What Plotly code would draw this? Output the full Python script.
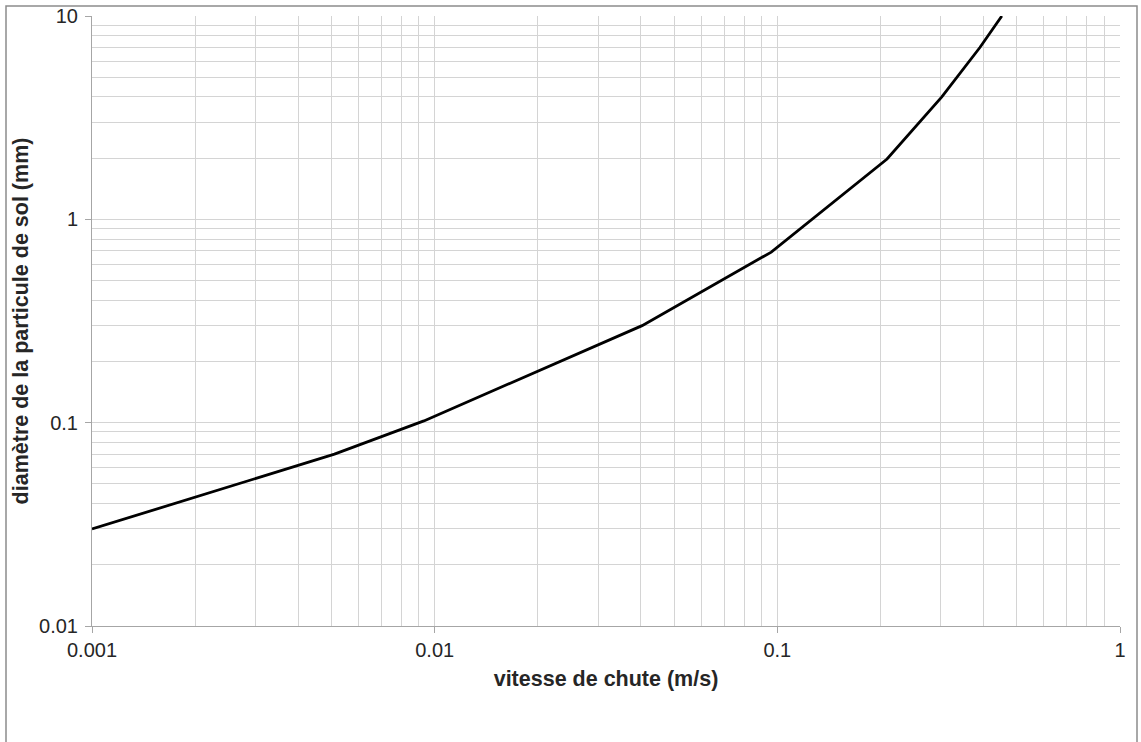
import plotly.graph_objects as go

vitesse = [0.001, 0.0051, 0.0093, 0.0403, 0.096, 0.209, 0.302, 0.39, 0.452]
diametre = [0.03, 0.07, 0.102, 0.3, 0.69, 1.98, 4.0, 7.0, 10.0]

x_major = [0.001, 0.01, 0.1, 1]
x_labels = ["0.001", "0.01", "0.1", "1"]
y_major = [0.01, 0.1, 1, 10]
y_labels = ["0.01", "0.1", "1", "10"]

x_minor = [m * d for d in [0.001, 0.01, 0.1] for m in range(2, 10)]
y_minor = [m * d for d in [0.01, 0.1, 1] for m in range(2, 10)]

grid = "#d4d4d4"
axc = "#a6a6a6"
font = "Liberation Sans, Arial, sans-serif"

fig = go.Figure()
fig.add_trace(go.Scatter(x=vitesse, y=diametre, mode="lines",
                         line=dict(color="black", width=2.8), showlegend=False))

fig.update_layout(
    width=1141, height=742,
    margin=dict(l=92, r=21, t=16, b=116),
    paper_bgcolor="white", plot_bgcolor="white",
    font=dict(family=font, size=20, color="#262626"),
    xaxis=dict(type="log", range=[-3, 0], tickvals=x_major, ticktext=x_labels,
               tickfont=dict(size=20, family=font, color="#262626"),
               showgrid=True, gridcolor=grid, gridwidth=1,
               showline=True, linecolor=axc, linewidth=1,
               ticks="outside", ticklen=6, tickcolor=axc,
               minor=dict(tickvals=x_minor, showgrid=True, gridcolor=grid, gridwidth=1, ticks=""),
               zeroline=False, automargin=False,
               title=dict(text="<b>vitesse de chute (m/s)</b>", font=dict(size=21.5, family=font, color="#262626"), standoff=10)),
    yaxis=dict(type="log", range=[-2, 1], tickvals=y_major, ticktext=y_labels,
               tickfont=dict(size=20, family=font, color="#262626"),
               showgrid=True, gridcolor=grid, gridwidth=1,
               showline=True, linecolor=axc, linewidth=1,
               ticks="outside", ticklen=6, tickcolor=axc, ticklabelstandoff=3,
               minor=dict(tickvals=y_minor, showgrid=True, gridcolor=grid, gridwidth=1, ticks=""),
               zeroline=False, automargin=False,
               title=dict(text="<b>diamètre de la particule de sol (mm)</b>", font=dict(size=21.5, family=font, color="#262626"), standoff=4)),
    shapes=[dict(type="rect", xref="paper", yref="paper",
                 x0=(6 - 92) / 1028, x1=(1137 - 92) / 1028,
                 y0=(626 - 760) / 610, y1=(626 - 6) / 610,
                 line=dict(color="#8c8c8c", width=1.5), fillcolor="rgba(0,0,0,0)", layer="below")],
)

fig.write_html("out.html")
